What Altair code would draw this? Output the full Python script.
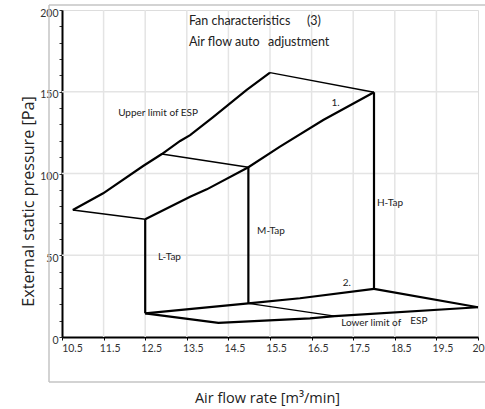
import altair as alt
import pandas as pd

FONT = "Lato"
TFONT = "Open Sans"

# ---- line data (x = air flow m3/min, y = ESP Pa) ----
upper_x = [10.76, 11.49, 12.45, 12.90, 13.34, 13.58, 14.14, 14.94, 15.5]
upper_y = [77.7, 87.9, 104.6, 111.9, 119.9, 123.5, 134.7, 151.1, 161.7]
top_x = [15.5, 18.0]
top_y = [161.7, 149.7]
curve1_x = [12.5, 13.58, 13.98, 14.98, 15.74, 16.78, 18.0]
curve1_y = [72.0, 85.8, 90.3, 103.8, 116.4, 132.7, 149.7]
leftseg_x = [10.76, 12.5]
leftseg_y = [77.7, 72.0]
midseg_x = [12.90, 14.98]
midseg_y = [111.9, 103.8]
ltap_x = [12.5, 12.5]
ltap_y = [72.0, 14.5]
mtap_x = [14.98, 14.98]
mtap_y = [103.8, 20.6]
htap_x = [18.0, 18.0]
htap_y = [149.7, 29.4]
line2_x = [12.5, 14.98, 16.22, 18.0]
line2_y = [14.5, 20.6, 23.7, 29.4]
hright_x = [18.0, 20.5]
hright_y = [29.4, 18.2]
lower_x = [12.5, 14.26, 16.46, 17.06, 20.5]
lower_y = [14.5, 8.7, 11.4, 12.8, 18.2]
mbottom_x = [14.98, 17.06]
mbottom_y = [20.6, 12.8]

thick = {"upper", "curve1", "ltap", "mtap", "htap", "line2", "lower", "hright"}
series = [
    ("upper", upper_x, upper_y), ("top", top_x, top_y), ("curve1", curve1_x, curve1_y),
    ("leftseg", leftseg_x, leftseg_y), ("midseg", midseg_x, midseg_y),
    ("ltap", ltap_x, ltap_y), ("mtap", mtap_x, mtap_y), ("htap", htap_x, htap_y),
    ("line2", line2_x, line2_y), ("hright", hright_x, hright_y),
    ("lower", lower_x, lower_y), ("mbottom", mbottom_x, mbottom_y),
]
rows = []
for name, xs, ys in series:
    for i, (a, b) in enumerate(zip(xs, ys)):
        rows.append({"seg": name, "order": i, "x": a, "y": b,
                     "w": 2.2 if name in thick else 1.4})
lines_df = pd.DataFrame(rows)

# ---- annotations ----
small_text = ["Upper limit of ESP", "1.", "L-Tap", "M-Tap", "H-Tap", "2.", "Lower limit of", "ESP"]
small_x = [11.85, 16.98, 12.81, 15.19, 18.07, 17.25, 17.21, 18.87]
small_y = [137.0, 143.3, 48.9, 64.8, 82.0, 33.2, 8.4, 9.6]
big_text = ["Fan characteristics", "(3)", "Air flow auto", "adjustment"]
big_x = [13.55, 16.39, 13.55, 15.45]
big_y = [193.3, 193.3, 180.4, 180.4]

small_df = pd.DataFrame({"t": small_text, "x": small_x, "y": small_y})
big_df = pd.DataFrame({"t": big_text, "x": big_x, "y": big_y})

x_ticks = [10.5, 11.5, 12.5, 13.5, 14.5, 15.5, 16.5, 17.5, 18.5, 19.5, 20.5]
x_grid = [11.5, 12.5, 13.5, 14.5, 15.5, 16.5, 17.5, 18.5, 19.5]
y_ticks = list(range(0, 201, 10))
y_grid = [50, 100, 150]

xscale = alt.Scale(domain=[10.5, 20.5], nice=False, zero=False)
yscale = alt.Scale(domain=[0, 200], nice=False)

xaxis = alt.Axis(
    values=x_ticks,
    labelExpr="datum.value == 20.5 ? '20' : format(datum.value, '.1f')",
    title="Air flow rate [m³/min]", titleFont=TFONT, titleFontSize=14.5,
    titleFontWeight="normal", titleColor="#222", titleY=65, titleX=205,
    titleBaseline="alphabetic", titleAlign="center",
    labelFont=FONT, labelFontSize=10.5, labelColor="#333", labelPadding=3,
    labelOffset={"condition": {"test": "datum.value == 20.5 || datum.value == 10.5",
                               "expr": "datum.value == 20.5 ? 0 : 10"}, "value": 6},
    labelFlush=False, labelOverlap=False,
    grid=False,
    domainColor="black", domainWidth=2, tickColor="black", tickSize=3, tickWidth=1,
)
yaxis = alt.Axis(
    values=y_ticks, labelExpr="datum.value % 50 == 0 ? datum.label : ''",
    title="External static pressure [Pa]", titleFont=TFONT, titleFontSize=16.2,
    titleFontWeight="normal", titleColor="#222", titleX=-29, titleY=191,
    titleAlign="center", titleBaseline="alphabetic",
    labelFont=FONT, labelFontSize=10.5, labelColor="#333", labelPadding=1, labelOffset=3,
    labelOverlap=False,
    grid=False,
    domainColor="black", domainWidth=2, tickColor="#333", tickSize=3, tickWidth=1,
)

X = alt.X("x:Q", scale=xscale, axis=xaxis)
Y = alt.Y("y:Q", scale=yscale, axis=yaxis)

# light gridlines drawn as rules at the tick values, spanning the plot
GRID = "#e4e4e4"
vgrid = alt.Chart(pd.DataFrame({"x": x_grid, "y0": [0] * len(x_grid), "y1": [200] * len(x_grid)})).mark_rule(
    color=GRID, strokeWidth=1.5).encode(x=X, y=alt.Y("y0:Q", scale=yscale, axis=yaxis), y2="y1:Q")
hgrid = alt.Chart(pd.DataFrame({"y": y_grid, "x0": [10.5] * 3, "x1": [20.5] * 3})).mark_rule(
    color=GRID, strokeWidth=1.5).encode(y=Y, x=alt.X("x0:Q", scale=xscale, axis=xaxis), x2="x1:Q")

base_lines = alt.Chart(lines_df).mark_line(color="black").encode(
    x=X, y=Y,
    detail="seg:N",
    order="order:Q",
    strokeWidth=alt.StrokeWidth("w:Q", scale=None, legend=None),
)

small_layer = alt.Chart(small_df).mark_text(
    align="left", baseline="middle", font=FONT, fontSize=10, color="#222"
).encode(x=X, y=Y, text="t:N")

big_layer = alt.Chart(big_df).mark_text(
    align="left", baseline="middle", font=FONT, fontSize=12.5, color="#222"
).encode(x=X, y=Y, text="t:N")

frame_df = pd.DataFrame({"k": [0]})
frame_left = alt.Chart(frame_df).mark_rule(color="#c4c4c4", strokeWidth=1.5).encode(
    x=alt.value(-13), y=alt.value(-5), y2=alt.value(372))
frame_top = alt.Chart(frame_df).mark_rule(color="#c4c4c4", strokeWidth=1.5).encode(
    x=alt.value(-13), x2=alt.value(440), y=alt.value(-5))
frame_bottom = alt.Chart(frame_df).mark_rule(color="#c4c4c4", strokeWidth=1.5).encode(
    x=alt.value(-13), x2=alt.value(440), y=alt.value(372))

chart = alt.layer(
    vgrid, hgrid, base_lines, small_layer, big_layer, frame_left, frame_top, frame_bottom
).properties(
    width=416, height=327,
    autosize=alt.AutoSizeParams(type="none"),
    padding={"left": 62, "top": 10, "right": 7, "bottom": 72},
).configure_view(stroke="black", strokeWidth=2).configure(background="white")

chart.save("out.html", embed_options={"renderer": "svg", "actions": False})
